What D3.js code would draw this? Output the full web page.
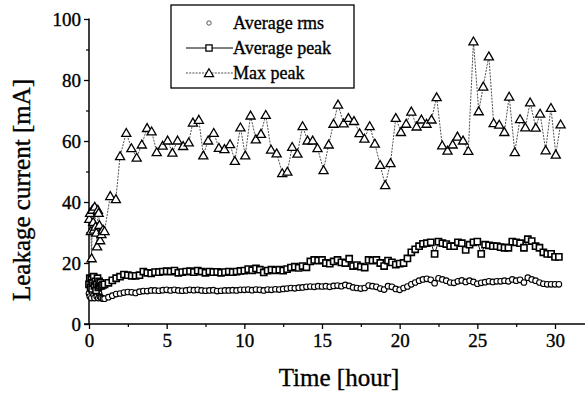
<!DOCTYPE html>
<html><head><meta charset="utf-8">
<script src="https://cdn.jsdelivr.net/npm/d3@7/dist/d3.min.js"></script>
<style>
html,body{margin:0;padding:0;background:#fff;}
svg{display:block;}
text{font-family:"Liberation Serif","Times New Roman",serif;fill:#000;stroke:#000;stroke-width:0.35px;}
</style></head>
<body>
<script>
// ---- data ----
const seriesNames = ["Average rms", "Average peak", "Max peak"];
const xTicks = [0, 5, 10, 15, 20, 25, 30];
const yTicks = [0, 20, 40, 60, 80, 100];

const denseTime = [0,0.05,0.1,0.15,0.2,0.25,0.3,0.35,0.4,0.45,0.5,0.55,0.6,0.65,0.7,0.75,0.8,0.9,
 1,1.25,1.5,1.75,2,2.25,2.5,2.75,3,3.25,3.5,3.75,4,4.25,4.5,4.75,5,5.25,5.5,5.75,
 6,6.25,6.5,6.75,7,7.25,7.5,7.75,8,8.25,8.5,8.75,9,9.25,9.5,9.75,10,10.25,10.5,10.75,
 11,11.25,11.5,11.75,12,12.25,12.5,12.75,13,13.25,13.5,13.75,14,14.25,14.5,14.75,15,15.25,15.5,15.75,
 16,16.25,16.5,16.75,17,17.25,17.5,17.75,18,18.25,18.5,18.75,19,19.25,19.5,19.75,20,20.25,20.5,20.75,
 21,21.25,21.5,21.75,22,22.25,22.5,22.75,23,23.25,23.5,23.75,24,24.25,24.5,24.75,25,25.25,25.5,25.75,
 26,26.25,26.5,26.75,27,27.25,27.5,27.75,28,28.25,28.5,28.75,29,29.25,29.5,29.75,30,30.25];

const avgRms = [10,9,11.5,8.5,10.5,12,9.5,8.5,11,10,9,11.5,8.5,10,9,8.8,8.5,8.3,
 8.3,8.8,9.3,9.8,10,10.3,10.5,10.4,10.2,10.6,10.8,10.8,11,11,10.9,11.1,11.2,11,11.2,11,
 10.9,11,11.2,11.1,11.2,11,10.9,11,11.1,10.8,10.9,11,11,11.1,11,11.2,11.2,11.3,11.1,11.3,
 11.2,11,11.3,11.2,11.4,11.3,11.5,11.6,11.8,11.7,11.9,12,12.2,12.3,12.2,12.4,12.3,12.4,12.2,12.5,
 12.6,12.4,12.8,12.5,12,11.8,11.6,11.8,12.6,12.4,12.2,11.6,11.3,12.4,12.2,11.5,11.2,11.8,12.3,13,
 13.6,14.2,14.6,14.8,14.5,13.4,15,14.6,14.2,13.6,13.5,14,14.3,13.8,14.2,13.8,13.2,13.5,13.7,14,
 13.8,14,14,14.2,14,14.6,14.2,14.5,13.6,15.2,14.6,14.2,13.6,13.2,13,13,13,13];

const avgPeak = [13,15,12,14.5,11.5,13.5,15.5,12.5,14,11,13,15,12,14,12.5,13.5,12.5,12.8,
 13,13.5,14.3,15,15.5,16.2,16,15.8,15.8,16,17.2,16.8,16.6,17,17,17.2,17.3,17.2,17.5,16.8,
 17,17.2,17.3,17,17.5,17.2,16.8,17.2,17,17.1,16.8,17,17.2,17,17.2,17.4,17.5,18,17.6,18.2,
 17.8,16.9,17.5,17.8,17.6,17.8,17.5,18,18.5,18.8,18.4,19,18.6,20.5,21,20.8,21,20,19.8,20.5,
 21,20.2,20,21.4,19,19.3,18.8,18.5,21,20.8,21,20,19,20.8,20.2,19.5,19.8,20,21.5,23.5,
 24.5,25.5,26.3,26.5,26.8,23,27,26.5,26.2,25.5,25.5,26.8,26.5,24.3,26,26.8,27,23,26,25.8,
 25.5,25.5,25.2,25,25,27,26.8,26.5,25,27.8,27.2,25.5,25,23.5,23,23,22,22];

const maxTime = [0.02,0.07,0.12,0.17,0.22,0.27,0.32,0.37,0.42,0.47,0.52,0.57,0.62,0.67,0.72,0.8,0.9,1.0,
 1.37,1.73,2.0,2.4,2.73,3.07,3.4,3.74,4.03,4.36,4.74,5.06,5.37,5.7,6.06,6.42,6.69,7.07,7.36,7.67,
 8.03,8.36,8.72,9.08,9.39,9.75,10.06,10.4,10.74,11.07,11.38,11.72,12.08,12.44,12.77,13.08,13.42,13.75,
 14.07,14.4,14.71,15.1,15.43,15.74,16.03,16.39,16.7,17.06,17.42,17.73,18.07,18.4,18.74,19.07,19.41,19.75,
 20.08,20.42,20.75,21.09,21.4,21.73,22.05,22.38,22.74,23.08,23.41,23.72,24.08,24.42,24.75,25.09,25.38,25.74,
 26.05,26.41,26.74,27.05,27.41,27.75,28.09,28.4,28.76,29.04,29.4,29.74,30.05,30.36];

const maxPeak = [34.5,36.5,30.5,21.6,37.5,33.5,31,38.5,32,30,25.5,37.5,36.5,32.5,27.5,29.5,31,30.5,
 42,41,55.1,62.7,57.7,54.6,58.9,64.3,63.2,56.4,58.5,60.2,56.2,60.2,58.4,59.6,66.1,67,55.3,60.2,
 62.7,57.8,57.4,59,53.5,64.5,55.3,68.4,60.6,62.4,68.6,57.2,56,49.5,50,58.1,55.9,64.9,
 60.2,60.2,57.7,50.5,58.9,65.7,72,65.8,67.6,66.6,62.6,60.8,64.9,59.2,52.2,45.6,52.8,67.6,
 63,65.7,69.7,64.8,67.1,65.7,67.1,74.4,58.6,56.9,58.9,61.5,60.2,56.8,92.7,69.8,77.9,87.8,
 65.9,65.4,63,74.6,56.4,67.2,64.5,72.7,64.4,69,57,70.9,55.6,65.5];

// ---- chart ----
const W = 585, H = 396;
const svg = d3.select("body").append("svg").attr("width", W).attr("height", H);

const x = d3.scaleLinear().domain([0, 30]).range([89, 555]);
const y = d3.scaleLinear().domain([0, 100]).range([324, 19]);

// y axis
const yAxis = d3.axisLeft(y).tickValues(yTicks).tickSize(5).tickPadding(3).tickFormat(d3.format("d"));
const gy = svg.append("g").attr("transform", `translate(${x(0)},0)`).call(yAxis);
gy.select(".domain").remove();
gy.append("line").attr("x1",0).attr("x2",0).attr("y1",y(0)).attr("y2",y(100)-0.5).attr("stroke","#000").attr("stroke-width",1.5);
gy.selectAll(".tick line").attr("stroke","#000").attr("stroke-width",1.3);
gy.selectAll(".tick text").attr("font-size",19).attr("font-family","Liberation Serif");
const gym = svg.append("g").attr("transform", `translate(${x(0)},0)`)
  .call(d3.axisLeft(y).tickValues([10,30,50,70,90]).tickSize(3).tickFormat(""));
gym.select(".domain").remove();
gym.selectAll(".tick line").attr("stroke","#000").attr("stroke-width",1.2);

// x axis
const xAxis = d3.axisBottom(x).tickValues(xTicks).tickSize(5).tickPadding(5).tickFormat(d3.format("d"));
const gx = svg.append("g").attr("transform", `translate(0,${y(0)})`).call(xAxis);
gx.select(".domain").remove();
gx.append("line").attr("x1",x(0)-5).attr("x2",W).attr("y1",0).attr("y2",0).attr("stroke","#000").attr("stroke-width",1.6);
gx.selectAll(".tick line").attr("stroke","#000").attr("stroke-width",1.3);
gx.selectAll(".tick text").attr("font-size",19).attr("font-family","Liberation Serif");
const gxm = svg.append("g").attr("transform", `translate(0,${y(0)})`)
  .call(d3.axisBottom(x).tickValues([2.5,7.5,12.5,17.5,22.5,27.5]).tickSize(3).tickFormat(""));
gxm.select(".domain").remove();
gxm.selectAll(".tick line").attr("stroke","#000").attr("stroke-width",1.2);

// axis titles
svg.append("text").attr("x", 339).attr("y", 386).attr("text-anchor","middle")
  .attr("font-size",25).text("Time [hour]");
svg.append("text").attr("transform","translate(30,190) rotate(-90)").attr("text-anchor","middle")
  .attr("font-size",25).text("Leakage current [mA]");

// series
const maxData = maxTime.map((t,i)=>({t, v:maxPeak[i]}));
const peakData = denseTime.map((t,i)=>({t, v:avgPeak[i]}));
const rmsData = denseTime.map((t,i)=>({t, v:avgRms[i]}));
const line = d3.line().x(d=>x(d.t)).y(d=>y(d.v));

svg.append("path").datum(maxData).attr("d", line).attr("fill","none")
  .attr("stroke","#222").attr("stroke-width",0.8).attr("stroke-dasharray","2,1.2");
svg.append("path").datum(peakData).attr("d", line).attr("fill","none")
  .attr("stroke","#000").attr("stroke-width",0.9);

const tri = d3.symbol().type(d3.symbolTriangle).size(36);
const sq = d3.symbol().type(d3.symbolSquare).size(38);

svg.append("g").selectAll("circle").data(rmsData).join("circle")
  .attr("cx", d=>x(d.t)).attr("cy", d=>y(d.v)).attr("r", 2.8)
  .attr("fill","#fff").attr("stroke","#000").attr("stroke-width",1.1);
svg.append("g").selectAll("path").data(peakData).join("path")
  .attr("d", sq).attr("transform", d=>`translate(${x(d.t)},${y(d.v)})`)
  .attr("fill","#fff").attr("stroke","#000").attr("stroke-width",1.6);
svg.append("g").selectAll("path").data(maxData).join("path")
  .attr("d", tri).attr("transform", d=>`translate(${x(d.t)},${y(d.v)+1})`)
  .attr("fill","#fff").attr("stroke","#000").attr("stroke-width",1.3);

// legend
const lg = svg.append("g");
lg.append("rect").attr("x",171).attr("y",5).attr("width",183).attr("height",83)
  .attr("fill","#fff").attr("stroke","#000").attr("stroke-width",1.3);
const rows = [23, 48, 73];
lg.append("circle").attr("cx",209).attr("cy",rows[0]).attr("r",2.2).attr("fill","#fff").attr("stroke","#444").attr("stroke-width",0.9);
lg.append("line").attr("x1",186).attr("x2",233).attr("y1",rows[1]).attr("y2",rows[1]).attr("stroke","#000").attr("stroke-width",1);
lg.append("path").attr("d",sq).attr("transform",`translate(209,${rows[1]})`).attr("fill","#fff").attr("stroke","#000").attr("stroke-width",1.3);
lg.append("line").attr("x1",186).attr("x2",233).attr("y1",rows[2]).attr("y2",rows[2]).attr("stroke","#222").attr("stroke-width",0.8).attr("stroke-dasharray","2,1.2");
lg.append("path").attr("d",tri).attr("transform",`translate(209,${rows[2]+1})`).attr("fill","#fff").attr("stroke","#000").attr("stroke-width",1.2);
seriesNames.forEach((s,i)=>{
  lg.append("text").attr("x",233).attr("y",rows[i]+6).attr("font-size",18).text(s);
});
</script>
</body></html>
